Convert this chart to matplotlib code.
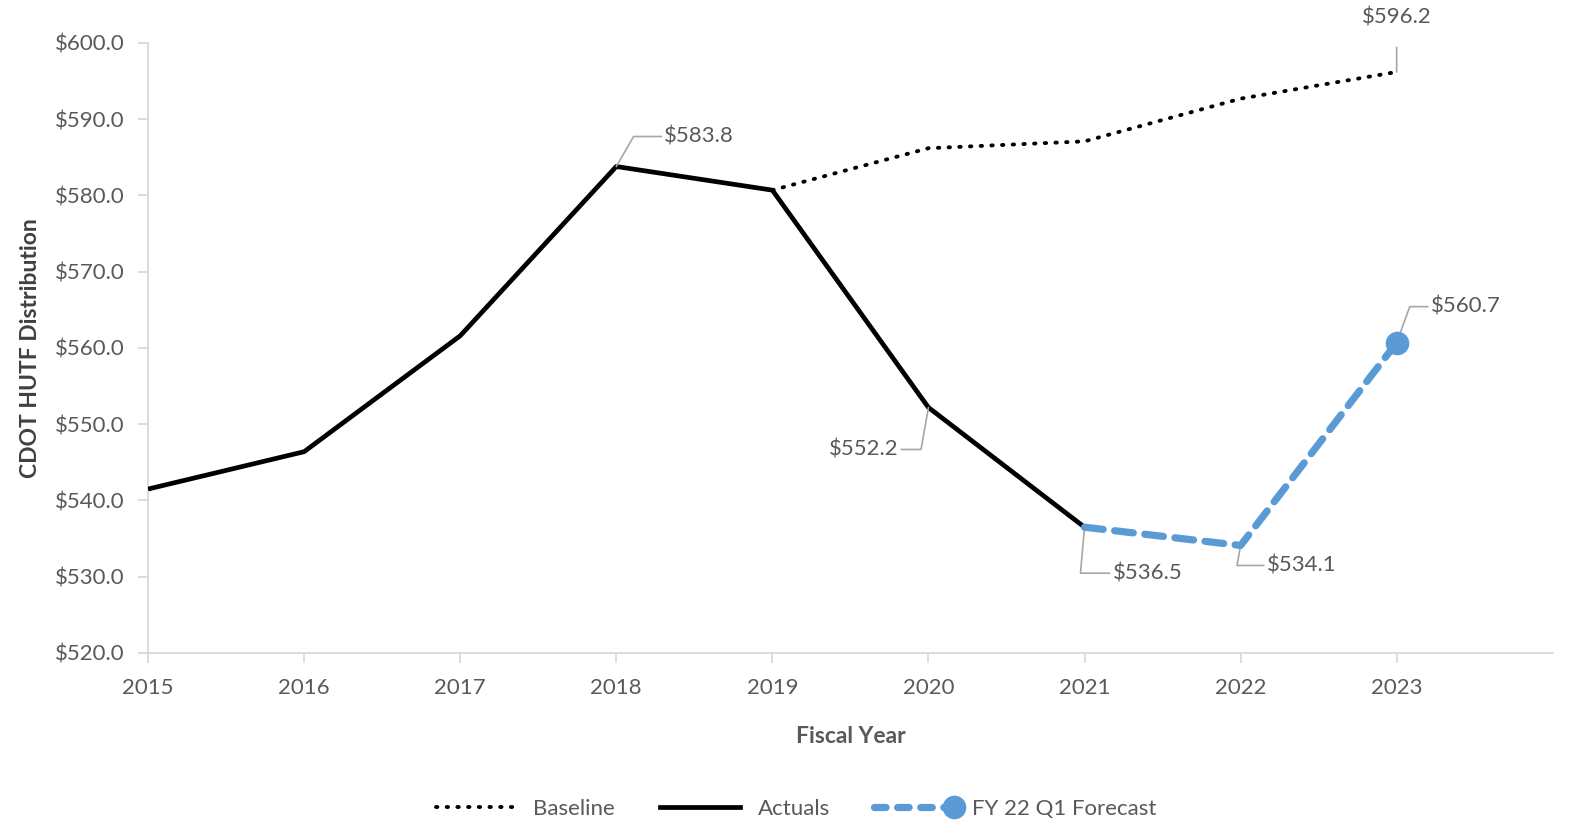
import matplotlib
matplotlib.use("Agg")
import matplotlib.pyplot as plt
from matplotlib.ticker import FuncFormatter
from matplotlib.lines import Line2D
from matplotlib.legend_handler import HandlerLine2D

years = [2015, 2016, 2017, 2018, 2019, 2020, 2021, 2022, 2023]

actual_years = [2015, 2016, 2017, 2018, 2019, 2020, 2021]
actuals = [541.5, 546.4, 561.6, 583.8, 580.7, 552.2, 536.5]

baseline_years = [2019, 2020, 2021, 2022, 2023]
baseline = [580.7, 586.2, 587.1, 592.7, 596.2]

forecast_years = [2021, 2022, 2023]
forecast = [536.5, 534.1, 560.7]

y_ticks = [520, 530, 540, 550, 560, 570, 580, 590, 600]

TEXT = "#595959"
AXIS = "#d9d9d9"
BLUE = "#5b9bd5"

plt.rcParams["font.family"] = ["Lato", "DejaVu Sans"]


class EndMarkerHandler(HandlerLine2D):
    """Legend line with its single marker placed at the right end."""
    def create_artists(self, *args, **kwargs):
        artists = super().create_artists(*args, **kwargs)
        for art in artists:
            art.set_markevery([-1])
        return artists


fig = plt.figure(figsize=(15.7, 8.22), dpi=100)
ax = fig.add_axes([0.0943, 0.2056, 0.8947, 0.7421])

ax.plot(baseline_years, baseline, color="black", lw=2.8, linestyle=(0, (0.35, 2.4)),
        dash_capstyle="round", label="Baseline", zorder=2)
ax.plot(actual_years, actuals, color="black", lw=3.4, solid_capstyle="butt",
        label="Actuals", zorder=3)
ax.plot(forecast_years, forecast, color=BLUE, lw=5.2, linestyle=(0, (2.6, 1.6)),
        dash_capstyle="round", marker="o", markersize=16, markevery=[2],
        label="FY 22 Q1 Forecast", zorder=4)

ax.set_xlim(2015, 2024)
ax.set_ylim(520, 600)
ax.set_xticks(years)
ax.set_yticks(y_ticks)
ax.yaxis.set_major_formatter(FuncFormatter(lambda v, p: f"${v:.1f}"))

for side in ("top", "right"):
    ax.spines[side].set_visible(False)
for side in ("left", "bottom"):
    ax.spines[side].set_color(AXIS)
    ax.spines[side].set_linewidth(1.3)
ax.tick_params(axis="both", colors=AXIS, length=7, width=1.3, labelcolor=TEXT,
               labelsize=16)
ax.tick_params(axis="x", pad=11)
ax.tick_params(axis="y", pad=10)

ax.set_xlabel("Fiscal Year", fontsize=16.5, fontweight="bold", color=TEXT, labelpad=20)
ax.set_ylabel("CDOT HUTF Distribution", fontsize=16.5, fontweight="bold", color="#404040",
              labelpad=10)

# Data labels with leader lines
lead = dict(arrowstyle="-", color="#a6a6a6", lw=1.2, shrinkA=0, shrinkB=0)

def label(x, y, dx, dy, ha, conn):
    ax.annotate(f"${y:.1f}", xy=(x, y), xytext=(dx, dy), textcoords="offset pixels",
                ha=ha, va="center", fontsize=16, color=TEXT,
                arrowprops=dict(lead, connectionstyle=conn))

label(2018, 583.8, 48, 30, "left", "angle,angleA=0,angleB=60,rad=0")
label(2020, 552.2, -30, -42, "right", "angle,angleA=0,angleB=80,rad=0")
label(2021, 536.5, 28, -46, "left", "angle,angleA=0,angleB=85,rad=0")
label(2022, 534.1, 26, -20, "left", "angle,angleA=0,angleB=80,rad=0")
label(2023, 560.7, 34, 36, "left", "angle,angleA=0,angleB=70,rad=0")
ax.annotate("$596.2", xy=(2023, 596.2), xytext=(0, 54), textcoords="offset pixels",
            ha="center", va="center", fontsize=16, color=TEXT,
            arrowprops=dict(lead, connectionstyle="arc3", shrinkA=12))

handles = [
    Line2D([], [], color="black", lw=2.8, linestyle=(0, (0.35, 2.4)), dash_capstyle="round"),
    Line2D([], [], color="black", lw=3.4),
    Line2D([], [], color=BLUE, lw=5.2, linestyle=(0, (1.6, 1.6)), dash_capstyle="round",
           marker="o", markersize=16),
]
fig.legend(handles, ["Baseline", "Actuals", "FY 22 Q1 Forecast"], loc="center",
           bbox_to_anchor=(0.507, 0.016), ncol=3, frameon=False, fontsize=16,
           handlelength=3.6, columnspacing=2.0, handletextpad=0.8, labelcolor=TEXT,
           handler_map={handles[2]: EndMarkerHandler(numpoints=1)})

fig.savefig("out.png", dpi=100)
